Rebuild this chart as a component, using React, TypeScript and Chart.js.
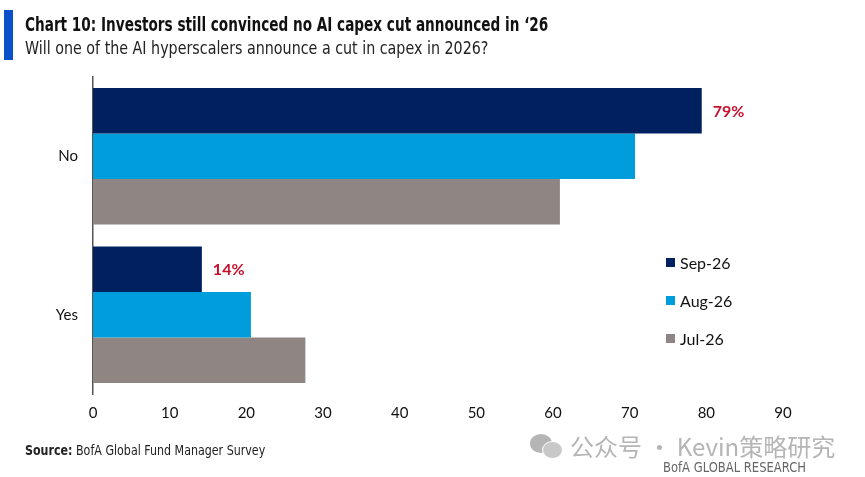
import React, { useEffect, useRef } from "react";
import { Chart, registerables } from "chart.js";

Chart.register(...registerables);

const categories = ["No", "Yes"];
const seriesNames = ["Sep-26", "Aug-26", "Jul-26"];
const sep26 = [79.4, 14.2];
const aug26 = [70.7, 20.6];
const jul26 = [60.9, 27.7];
const seriesColors = ["#002060", "#009ddc", "#8f8583"];
const xTicks = [0, 10, 20, 30, 40, 50, 60, 70, 80, 90];
const highlightLabels = ["79%", "14%"];

const condensed = '"Liberation Sans Narrow", "DejaVu Sans Condensed", "Liberation Sans", sans-serif';

export default function App() {
  const ref = useRef<HTMLCanvasElement | null>(null);

  useEffect(() => {
    const canvas = ref.current;
    if (!canvas) return;
    const labelPlugin = {
      id: "endLabels",
      afterDatasetsDraw(chart: any) {
        const ctx = chart.ctx;
        const meta = chart.getDatasetMeta(0);
        ctx.save();
        ctx.fillStyle = "#c8102e";
        ctx.font = 'bold 16px Lato, "Open Sans", sans-serif';
        ctx.textAlign = "left";
        ctx.textBaseline = "middle";
        meta.data.forEach((bar: any, i: number) => {
          ctx.fillText(highlightLabels[i], bar.x + 11, bar.y + 1);
        });
        ctx.restore();
      },
    };
    const chart = new Chart(canvas, {
      type: "bar",
      data: {
        labels: categories,
        datasets: [sep26, aug26, jul26].map((d, i) => ({
          label: seriesNames[i],
          data: d,
          backgroundColor: seriesColors[i],
          borderWidth: 0,
          categoryPercentage: 0.86,
          barPercentage: 1,
        })),
      },
      options: {
        indexAxis: "y",
        responsive: false,
        animation: false,
        layout: { padding: { top: 77, right: 82, left: 0, bottom: 0 } },
        plugins: {
          legend: { display: false },
          tooltip: { enabled: false },
        },
        scales: {
          x: {
            min: 0,
            max: 90,
            afterBuildTicks: (s: any) => {
              s.ticks = xTicks.map((v) => ({ value: v }));
            },
            grid: { display: false, drawTicks: false },
            border: { display: false },
            ticks: {
              color: "#111",
              padding: 10,
              maxRotation: 0,
              font: { family: 'Lato, "Open Sans", sans-serif', size: 15 },
            },
            afterFit: (s: any) => {
              s.height = 83;
            },
          },
          y: {
            grid: { display: false, drawTicks: false },
            border: { display: true, color: "#555", width: 1.5 },
            ticks: {
              color: "#111",
              padding: 15,
              font: { family: 'Lato, "Open Sans", sans-serif', size: 15 },
            },
            afterFit: (s: any) => {
              s.width = 93;
            },
          },
        },
      },
      plugins: [labelPlugin],
    } as any);
    return () => chart.destroy();
  }, []);

  const squeeze = (k: number): React.CSSProperties => ({ transform: `scaleX(${k})`, transformOrigin: "left top" });

  return (
    <div style={{ position: "fixed", left: 0, top: 0, width: 865, height: 477, background: "#fff", overflow: "hidden" }}>
      <canvas ref={ref} width={865} height={477} style={{ position: "absolute", left: 0, top: 0, width: 865, height: 477 }} />
      <div style={{ position: "absolute", left: 4, top: 10, width: 9, height: 50, background: "#0a50c8" }} />
      <div style={{ position: "absolute", left: 25, top: 13, fontFamily: condensed, fontWeight: "bold", fontSize: 20, color: "#111", whiteSpace: "nowrap", lineHeight: "22px", ...squeeze(0.757) }}>
        Chart 10: Investors still convinced no AI capex cut announced in ‘26
      </div>
      <div style={{ position: "absolute", left: 25, top: 37, fontFamily: condensed, fontSize: 18, color: "#222", whiteSpace: "nowrap", lineHeight: "22px", ...squeeze(0.882) }}>
        Will one of the AI hyperscalers announce a cut in capex in 2026?
      </div>
      <div style={{ position: "absolute", left: 666, top: 243, fontFamily: 'Lato, "Open Sans", sans-serif', fontSize: 16, color: "#111" }}>
        {seriesNames.map((n, i) => (
          <div key={n} style={{ display: "flex", alignItems: "center", height: 38 }}>
            <span style={{ display: "inline-block", width: 9, height: 9, background: seriesColors[i], marginRight: 5 }} />
            <span>{n}</span>
          </div>
        ))}
      </div>
      <div style={{ position: "absolute", left: 25, top: 442, fontFamily: condensed, fontSize: 14, color: "#222", whiteSpace: "nowrap", ...squeeze(0.88) }}>
        <b>Source:</b> BofA Global Fund Manager Survey
      </div>
      <div style={{ position: "absolute", left: 530, top: 428, display: "flex", alignItems: "center", color: "#b5b5b5", whiteSpace: "nowrap" }}>
        <div style={{ position: "relative", width: 34, height: 28, marginRight: 6 }}>
          <div style={{ position: "absolute", left: 0, top: 2, width: 22, height: 19, borderRadius: "50%", background: "#b5b5b5" }} />
          <div style={{ position: "absolute", left: 12, top: 9, width: 19, height: 16, borderRadius: "50%", background: "#c8c8c8", border: "1.5px solid #fff" }} />
        </div>
        <span style={{ fontFamily: '"Noto Sans CJK SC", sans-serif', fontSize: 24 }}>公众号 · Kevin策略研究</span>
      </div>
      <div style={{ position: "absolute", left: 663, top: 459, fontFamily: condensed, fontSize: 14, color: "#666", whiteSpace: "nowrap", ...squeeze(0.92) }}>
        BofA GLOBAL RESEARCH
      </div>
    </div>
  );
}
